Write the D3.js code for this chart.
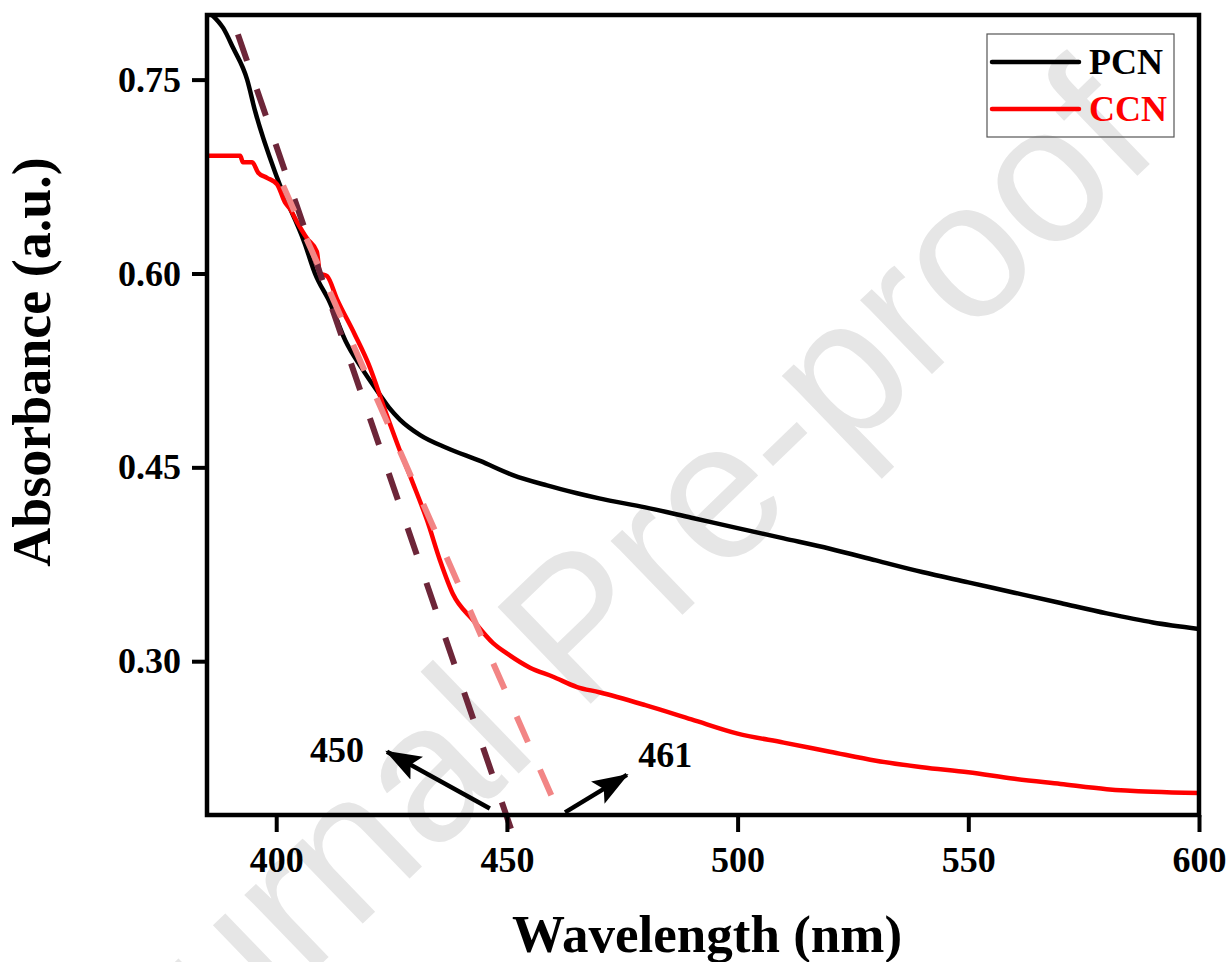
<!DOCTYPE html>
<html>
<head>
<meta charset="utf-8">
<script src="https://cdn.jsdelivr.net/npm/d3@7"></script>
<style>
  body { margin: 0; background: #fff; }
  text { font-family: "Liberation Serif", "Times New Roman", serif; font-weight: bold; }
</style>
</head>
<body>
<script>
// absorbance spectra
var pcnWave = [386.1, 388.5, 390.6, 393.7, 395.4, 400.2, 406.2, 408.4, 411.7, 415, 418.5, 422.5, 424.5, 426.8, 431.2, 437.0, 444.2, 451.3, 458.7, 465.2, 470, 480, 490, 500, 510, 520, 530, 540, 550, 560, 570, 580, 590, 600];
var pcnAbs = [0.800, 0.790, 0.775, 0.750, 0.726, 0.674, 0.623, 0.600, 0.577, 0.548, 0.527, 0.506, 0.496, 0.487, 0.475, 0.465, 0.455, 0.444, 0.436, 0.430, 0.426, 0.419, 0.411, 0.403, 0.395, 0.387, 0.378, 0.369, 0.361, 0.353, 0.345, 0.337, 0.330, 0.325];

var ccnWave = [385, 392.2, 392.8, 394.8, 396.1, 398.0, 400.2, 401.9, 403.0, 404.5, 406.7, 408.8, 409.5, 411.0, 413.2, 417, 420, 423.6, 426.8, 429.6, 432.7, 435.5, 438.3, 442.6, 447.0, 450.0, 455, 460, 465.2, 470, 480, 490, 500, 510, 520, 530, 540, 550, 560, 570, 580, 590, 600];
var ccnAbs = [0.691, 0.691, 0.686, 0.686, 0.678, 0.674, 0.669, 0.655, 0.650, 0.640, 0.627, 0.617, 0.600, 0.598, 0.580, 0.553, 0.530, 0.494, 0.463, 0.438, 0.409, 0.378, 0.352, 0.332, 0.314, 0.306, 0.295, 0.288, 0.280, 0.276, 0.266, 0.255, 0.244, 0.237, 0.230, 0.223, 0.218, 0.214, 0.209, 0.205, 0.201, 0.199, 0.198];

// tangent (band edge) lines
var pcnTangent = [[391.7, 0.785], [451.2, 0.167]];
var ccnTangent = [[401.5, 0.668], [461.5, 0.181]];

// arrows: [from, to] and labels
var arrows = [
  {from: [446.3, 0.186], to: [424.0, 0.230], label: "450", at: [413.2, 0.222]},
  {from: [462.6, 0.183], to: [476.0, 0.212], label: "461", at: [484.3, 0.218]}
];

var xTicks = [400, 450, 500, 550, 600];
var yTicks = [0.30, 0.45, 0.60, 0.75];
var seriesNames = ["PCN", "CCN"];
var seriesColors = ["#000000", "#ff0000"];

var W = 1230, H = 962;
var margin = {left: 207, right: 31, top: 15, bottom: 147};

var x = d3.scaleLinear().domain([385, 600]).range([margin.left, W - margin.right]);
var y = d3.scaleLinear().domain([0.181, 0.80]).range([H - margin.bottom, margin.top]);

var svg = d3.select("body").append("svg")
  .attr("width", W)
  .attr("height", H)
  .style("display", "block");

svg.append("rect").attr("width", W).attr("height", H).attr("fill", "#fff");

// watermark
svg.append("text")
  .attr("transform", "translate(1164,150) rotate(-44)")
  .attr("text-anchor", "end")
  .style("font-family", "'Liberation Sans', Arial, sans-serif")
  .style("font-weight", "normal")
  .style("font-size", "195px")
  .attr("fill", "#e6e6e6")
  .text("Journal Pre-proof");

svg.append("clipPath").attr("id", "plotclip")
  .append("rect")
  .attr("x", margin.left).attr("y", margin.top)
  .attr("width", W - margin.left - margin.right)
  .attr("height", H - margin.top - margin.bottom);

var line = d3.line()
  .x(function(d) { return x(d[0]); })
  .y(function(d) { return y(d[1]); });

var curve = d3.line()
  .curve(d3.curveMonotoneX)
  .x(function(d) { return x(d[0]); })
  .y(function(d) { return y(d[1]); });

var pcn = pcnWave.map(function(w, i) { return [w, pcnAbs[i]]; });
var ccn = ccnWave.map(function(w, i) { return [w, ccnAbs[i]]; });

var plot = svg.append("g").attr("clip-path", "url(#plotclip)");

plot.append("path").datum(pcn)
  .attr("d", curve)
  .attr("fill", "none")
  .attr("stroke", seriesColors[0])
  .attr("stroke-width", 4.5)
  .attr("stroke-linejoin", "round");

plot.append("path").datum(ccn)
  .attr("d", curve)
  .attr("fill", "none")
  .attr("stroke", seriesColors[1])
  .attr("stroke-width", 4.5)
  .attr("stroke-linejoin", "round");

// tangents (the dark one runs past the axis)
svg.append("path").datum(pcnTangent)
  .attr("d", line)
  .attr("stroke", "#6d2639")
  .attr("stroke-width", 6)
  .attr("stroke-dasharray", "28,30")
  .attr("fill", "none");

svg.append("path").datum(ccnTangent)
  .attr("d", line)
  .attr("stroke", "#f28585")
  .attr("stroke-width", 6)
  .attr("stroke-dasharray", "28,30")
  .attr("fill", "none");

// arrows
svg.append("defs").append("marker")
  .attr("id", "head")
  .attr("viewBox", "0 0 36 28")
  .attr("refX", 34).attr("refY", 14)
  .attr("markerWidth", 36).attr("markerHeight", 28)
  .attr("markerUnits", "userSpaceOnUse")
  .attr("orient", "auto")
  .append("path")
  .attr("d", "M0,1 L36,14 L0,27 L7,14 Z")
  .attr("fill", "#000");

svg.selectAll(".arrow")
  .data(arrows)
  .enter().append("line")
  .attr("class", "arrow")
  .attr("x1", function(d) { return x(d.from[0]); })
  .attr("y1", function(d) { return y(d.from[1]); })
  .attr("x2", function(d) { return x(d.to[0]); })
  .attr("y2", function(d) { return y(d.to[1]); })
  .attr("stroke", "#000")
  .attr("stroke-width", 4.5)
  .attr("marker-end", "url(#head)");

svg.selectAll(".arrow-label")
  .data(arrows)
  .enter().append("text")
  .attr("class", "arrow-label")
  .attr("x", function(d) { return x(d.at[0]); })
  .attr("y", function(d) { return y(d.at[1]); })
  .attr("text-anchor", "middle")
  .style("font-size", "36px")
  .text(function(d) { return d.label; });

// axes
var xAxis = d3.axisBottom(x).tickValues(xTicks).tickSize(17).tickPadding(14).tickSizeOuter(0);
var yAxis = d3.axisLeft(y).tickValues(yTicks).tickSize(15).tickPadding(11).tickSizeOuter(0)
  .tickFormat(d3.format(".2f"));

var gx = svg.append("g")
  .attr("transform", "translate(0," + (H - margin.bottom) + ")")
  .call(xAxis);
var gy = svg.append("g")
  .attr("transform", "translate(" + margin.left + ",0)")
  .call(yAxis);

[gx, gy].forEach(function(g) {
  g.select(".domain").remove();
  g.selectAll(".tick line").attr("stroke", "#000").attr("stroke-width", 4);
  g.selectAll(".tick text")
    .attr("fill", "#000")
    .style("font-family", "'Liberation Serif', 'Times New Roman', serif")
    .style("font-weight", "bold")
    .style("font-size", "36px");
});

// frame
svg.append("rect")
  .attr("x", margin.left).attr("y", margin.top)
  .attr("width", W - margin.left - margin.right)
  .attr("height", H - margin.top - margin.bottom)
  .attr("fill", "none")
  .attr("stroke", "#000")
  .attr("stroke-width", 4.5);

// axis titles
svg.append("text")
  .attr("x", 707).attr("y", 952)
  .attr("text-anchor", "middle")
  .style("font-size", "53px")
  .text("Wavelength (nm)");

svg.append("text")
  .attr("transform", "translate(50,362) rotate(-90)")
  .attr("text-anchor", "middle")
  .style("font-size", "54px")
  .text("Absorbance (a.u.)");

// legend (transparent box, watermark shows through)
var legend = svg.append("g");
legend.append("rect")
  .attr("x", 987).attr("y", 34)
  .attr("width", 187).attr("height", 103)
  .attr("fill", "none")
  .attr("stroke", "#555")
  .attr("stroke-width", 1.2);

var items = legend.selectAll(".item")
  .data(seriesNames)
  .enter().append("g")
  .attr("class", "item")
  .attr("transform", function(d, i) { return "translate(0," + (62 + i * 47) + ")"; });

items.append("line")
  .attr("x1", 992).attr("x2", 1079)
  .attr("stroke", function(d, i) { return seriesColors[i]; })
  .attr("stroke-width", 4.5)
  .attr("stroke-linecap", "round");

items.append("text")
  .attr("x", 1089).attr("y", 12)
  .attr("fill", function(d, i) { return seriesColors[i]; })
  .style("font-size", "36px")
  .text(function(d) { return d; });
</script>
</body>
</html>
